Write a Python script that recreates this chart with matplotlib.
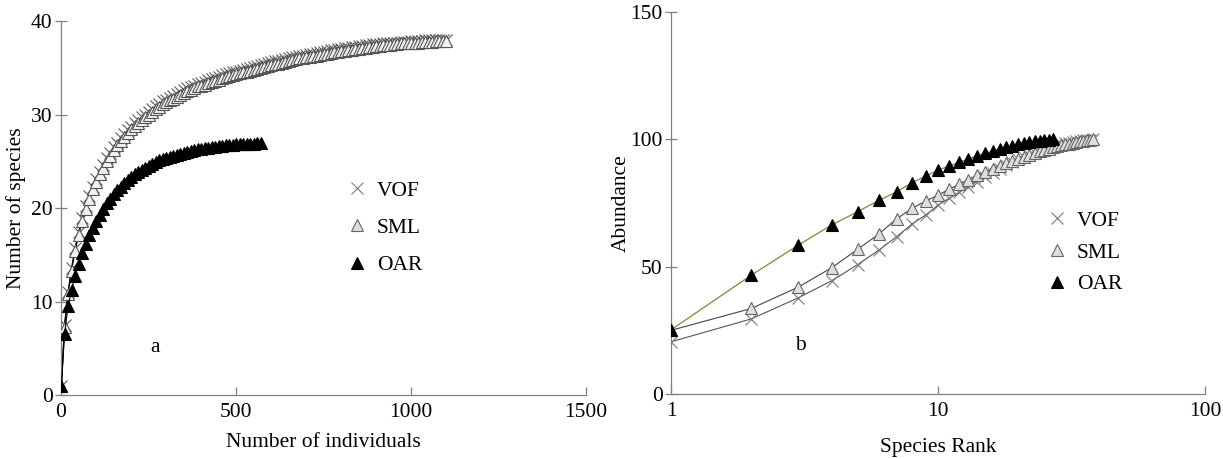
import matplotlib
matplotlib.use('Agg')
import matplotlib.pyplot as plt
from matplotlib.lines import Line2D

plt.rcParams['font.family'] = ['Liberation Serif', 'DejaVu Serif']
plt.rcParams['font.size'] = 15.5

# ── data: rarefaction (panel a) ──
n_large = [1] + list(range(10, 1101, 10))
vof_species = [
    1, 7.5, 11, 13.6, 15.7, 17.4, 18.9, 20.2, 21.3, 22.3, 23.1, 23.9, 24.6, 25.3, 25.9,
    26.5, 27.0, 27.5, 27.9, 28.3, 28.7, 29.1, 29.4, 29.7, 30.0, 30.3, 30.6, 30.9, 31.1,
    31.4, 31.6, 31.8, 32.0, 32.2, 32.4, 32.6, 32.8, 32.9, 33.1, 33.3, 33.4, 33.5, 33.7,
    33.8, 33.9, 34.0, 34.2, 34.3, 34.4, 34.5, 34.6, 34.7, 34.8, 34.9, 35.0, 35.1, 35.2,
    35.3, 35.4, 35.5, 35.6, 35.7, 35.7, 35.8, 35.9, 36.0, 36.1, 36.2, 36.3, 36.3, 36.4,
    36.5, 36.5, 36.6, 36.7, 36.7, 36.8, 36.9, 36.9, 37.0, 37.0, 37.1, 37.1, 37.2, 37.2,
    37.3, 37.3, 37.4, 37.4, 37.5, 37.5, 37.5, 37.6, 37.6, 37.7, 37.7, 37.7, 37.8, 37.8,
    37.8, 37.9, 37.9, 37.9, 37.9, 38.0, 38.0, 38.0, 38.0, 38.0, 38.0, 38.0]
sml_species = [
    1, 7.3, 10.8, 13.3, 15.4, 17.1, 18.6, 19.9, 21.0, 22.0, 22.8, 23.6, 24.3, 25.0, 25.6,
    26.2, 26.7, 27.2, 27.6, 28.0, 28.4, 28.8, 29.1, 29.4, 29.7, 30.0, 30.3, 30.6, 30.8,
    31.1, 31.3, 31.5, 31.7, 31.9, 32.1, 32.3, 32.5, 32.6, 32.8, 33.0, 33.1, 33.2, 33.4,
    33.5, 33.6, 33.7, 33.9, 34.0, 34.1, 34.2, 34.3, 34.4, 34.5, 34.6, 34.7, 34.8, 34.9,
    35.0, 35.1, 35.2, 35.3, 35.4, 35.4, 35.5, 35.6, 35.7, 35.8, 35.9, 36.0, 36.0, 36.1,
    36.2, 36.3, 36.3, 36.4, 36.5, 36.5, 36.6, 36.7, 36.7, 36.8, 36.8, 36.9, 36.9, 37.0,
    37.0, 37.1, 37.1, 37.2, 37.2, 37.3, 37.3, 37.4, 37.4, 37.4, 37.5, 37.5, 37.6, 37.6,
    37.6, 37.7, 37.7, 37.7, 37.8, 37.8, 37.8, 37.8, 37.9, 37.9, 37.9, 37.9]
n_oar = [1] + list(range(10, 571, 10))
oar_species = [
    1, 6.5, 9.5, 11.2, 12.7, 14.0, 15.2, 16.2, 17.1, 17.9, 18.6, 19.3, 19.9, 20.5, 21.0,
    21.5, 21.9, 22.3, 22.7, 23.0, 23.3, 23.6, 23.9, 24.1, 24.3, 24.5, 24.7, 24.9, 25.1,
    25.2, 25.4, 25.5, 25.6, 25.7, 25.8, 25.9, 26.0, 26.1, 26.2, 26.3, 26.3, 26.4, 26.4,
    26.5, 26.5, 26.6, 26.6, 26.7, 26.7, 26.7, 26.8, 26.8, 26.8, 26.9, 26.9, 26.9, 27.0, 27.0]

# ── data: rank / cumulative abundance (panel b) ──
rank_38 = list(range(1, 39))
rank_27 = list(range(1, 28))
vof_abund = [20.5, 29.5, 37.8, 44.5, 50.8, 56.5, 61.8, 66.8, 70.3, 74.2, 76.8, 79.2, 81.4,
             83.4, 85.2, 86.9, 88.4, 89.8, 91.0, 92.1, 93.1, 94.0, 94.8, 95.5, 96.1, 96.7,
             97.2, 97.6, 98.0, 98.4, 98.7, 99.0, 99.2, 99.4, 99.6, 99.8, 99.9, 100]
sml_abund = [25.0, 33.6, 42.0, 49.6, 56.8, 62.8, 68.8, 72.9, 75.8, 78.1, 80.4, 82.4, 84.2,
             85.8, 87.2, 88.5, 89.6, 90.6, 91.5, 92.4, 93.2, 93.9, 94.6, 95.3, 95.8, 96.3,
             96.8, 97.2, 97.6, 98.0, 98.3, 98.6, 98.9, 99.2, 99.5, 99.7, 99.9, 100]
oar_abund = [25.2, 46.7, 58.5, 66.4, 71.6, 76.0, 79.4, 83.0, 85.6, 87.9, 89.5, 91.0, 92.3,
             93.5, 94.5, 95.4, 96.2, 96.9, 97.5, 98.0, 98.5, 98.9, 99.2, 99.5, 99.7, 99.9, 100]

AX_COL = '#808080'
fig = plt.figure(figsize=(12.23, 4.59), dpi=100)
ax_a = fig.add_axes([0.0499, 0.1394, 0.4294, 0.8148])
ax_b = fig.add_axes([0.5487, 0.1416, 0.4366, 0.8323])

vof_kw = dict(marker='x', ms=9, mew=0.8, color='#7a7a7a', lw=0)
sml_kw = dict(marker='^', ms=9, mew=0.8, mfc='#dedede', mec='#666666', lw=0)
oar_kw = dict(marker='^', ms=9, mew=0.8, mfc='black', mec='black', lw=0)

# ── panel a ──
ax_a.plot(n_large, vof_species, color='black', lw=0.8, zorder=2)
ax_a.plot(n_large, vof_species, zorder=3, **dict(vof_kw, ms=8, color='#5a5a5a'))
ax_a.plot(n_large, sml_species, color='black', lw=0.9, zorder=2)
ax_a.plot(n_large, sml_species, zorder=3, **dict(sml_kw, ms=8, mfc='#f2f2f2', mec='#555555'))
ax_a.plot(n_oar, oar_species, color='black', lw=0.8, zorder=4)
ax_a.plot(n_oar, oar_species, zorder=5, **dict(oar_kw, ms=8))
ax_a.set_xlim(0, 1500)
ax_a.set_ylim(0, 40)
ax_a.set_xticks([0, 500, 1000, 1500])
ax_a.set_yticks([0, 10, 20, 30, 40])
ax_a.set_xlabel('Number of individuals', labelpad=8)
ax_a.set_ylabel('Number of species', labelpad=4)
ax_a.text(0.179, 0.128, 'a', transform=ax_a.transAxes, ha='center', va='center')

# ── panel b ──
ax_b.plot(rank_38, vof_abund, color='#555555', lw=0.8, zorder=2)
ax_b.plot(rank_38, vof_abund, zorder=3, **vof_kw)
ax_b.plot(rank_38, sml_abund, color='#444444', lw=0.8, zorder=2)
ax_b.plot(rank_38, sml_abund, zorder=3, **sml_kw)
ax_b.plot(rank_27, oar_abund, color='#6f8f3a', lw=0.9, zorder=4)
ax_b.plot(rank_27, oar_abund, zorder=5, **oar_kw)
ax_b.set_xscale('log')
ax_b.set_xlim(1, 100)
ax_b.set_ylim(0, 150)
ax_b.set_xticks([1, 10, 100])
ax_b.set_xticklabels(['1', '10', '100'])
ax_b.minorticks_off()
ax_b.set_yticks([0, 50, 100, 150])
ax_b.set_xlabel('Species Rank', labelpad=12)
ax_b.set_ylabel('Abundance', labelpad=0)
ax_b.text(0.2416, 0.128, 'b', transform=ax_b.transAxes, ha='center', va='center')

for ax in (ax_a, ax_b):
    for s in ('top', 'right'):
        ax.spines[s].set_visible(False)
    for s in ('left', 'bottom'):
        ax.spines[s].set_color(AX_COL)
        ax.spines[s].set_linewidth(0.9)
    ax.tick_params(axis='y', direction='inout', length=8, width=0.9, color=AX_COL, pad=2)
    ax.tick_params(axis='x', direction='in', length=6, width=0.9, color=AX_COL, pad=6)

handles = [Line2D([], [], **vof_kw), Line2D([], [], **sml_kw), Line2D([], [], **oar_kw)]
labels = ['VOF', 'SML', 'OAR']
ax_a.legend(handles, labels, loc='upper left', bbox_to_anchor=(338 / 1223, 1 - 172 / 459),
            bbox_transform=fig.transFigure, frameon=False, handlelength=1.0,
            handletextpad=0.4, labelspacing=0.8, borderpad=0.4, borderaxespad=0)
ax_b.legend(handles, labels, loc='upper left', bbox_to_anchor=(1038 / 1223, 1 - 202 / 459),
            bbox_transform=fig.transFigure, frameon=False, handlelength=1.0,
            handletextpad=0.4, labelspacing=0.55, borderpad=0.4, borderaxespad=0)

fig.savefig('out.png', dpi=100, facecolor='white')
